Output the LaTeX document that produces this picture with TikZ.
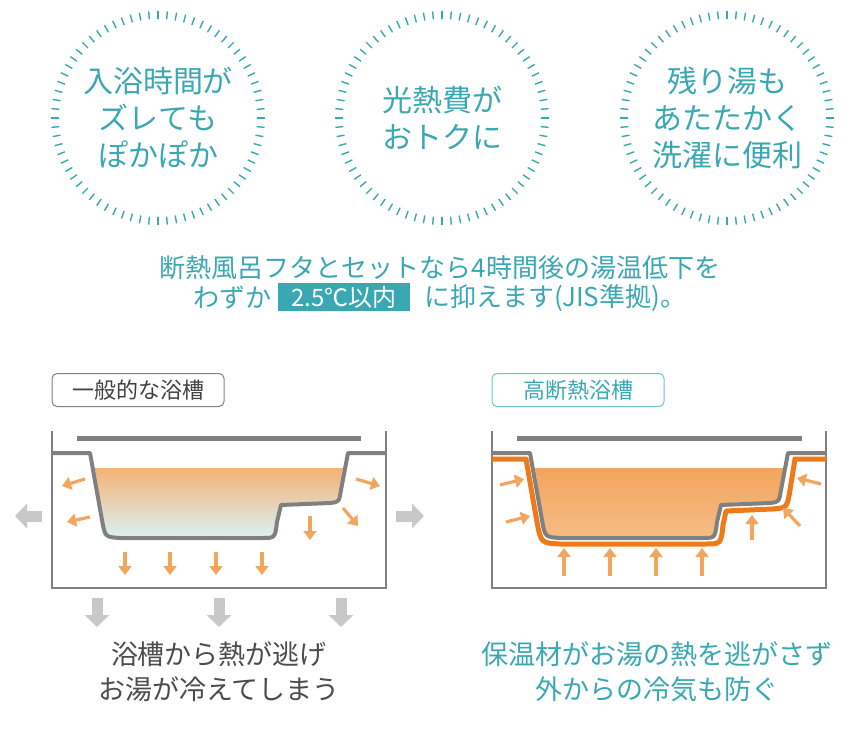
\documentclass[tikz,border=0pt]{standalone}
\usepackage{fontspec}
\newfontfamily\jp{Noto Sans CJK JP}
\usetikzlibrary{arrows.meta}
\definecolor{teal}{HTML}{3AA8B2}
\definecolor{tubgray}{HTML}{808080}
\definecolor{warm}{HTML}{F2A55C}
\definecolor{deep}{HTML}{EE7A1A}
\definecolor{blk}{HTML}{C8C8C8}
\tikzset{
 circtxt/.style={font=\jp\fontsize{30}{37}\selectfont,text=teal,align=center},
 oarr/.style={draw=warm,line width=3.2pt,-{Triangle[length=9pt,width=13pt]}},
 garr/.style={draw=blk,line width=11pt,-{Triangle[length=12pt,width=24pt]}},
 tag/.style={draw,rounded corners=5pt,line width=1pt,minimum width=172pt,minimum height=33pt,font=\jp\fontsize{22}{24}\selectfont},
 stmt/.style={font=\jp\fontsize{26}{30}\selectfont,text=teal,inner sep=0pt},
}
\begin{document}
\begin{tikzpicture}[x=1pt,y=-1pt]
\useasboundingbox (0,0) rectangle (855,741);
\foreach \cx/\t [count=\i] in {158/{入浴時間が\\ズレても\\ぽかぽか},442/{光熱費が\\おトクに},727/{残り湯も\\あたたかく\\洗濯に便利}}{
  \foreach \a in {0,5,...,355}{
    \draw[teal,line width=1.4pt] ({\cx+99*cos(\a)},{118+99*sin(\a)}) -- ({\cx+107*cos(\a)},{118+107*sin(\a)});
  }
  \node[circtxt] (c\i) at (\cx,118) {\t};
}
\node[stmt] (s1) at (440,268) {断熱風呂フタとセットなら4時間後の湯温低下を};
\node[stmt,anchor=east] (s2a) at (272,298) {わずか};
\node[fill=teal,text=white,font=\jp\fontsize{24}{26}\selectfont,minimum height=27pt,minimum width=132pt,inner xsep=3pt,anchor=west] (hl) at (278,297) {2.5℃以内};
\node[stmt,anchor=west] (s2b) at (424,298) {に抑えます(JIS準拠)。};
\node[tag,draw=tubgray,text=black!75] (t1) at (138,390) {一般的な浴槽};
\node[tag,draw=teal!70,text=teal] (t2) at (578,390) {高断熱浴槽};
% LEFT tub
\draw[tubgray,line width=1.5pt] (52,431) -- (52,588) -- (386,588) -- (386,431);
\draw[tubgray,line width=5pt] (77,438) -- (361,438);
\shade[top color=warm!85,bottom color=teal!18] (95,468) -- (343,468) -- (340,490) .. controls (337,500) .. (328,502) -- (282,503) -- (277,522) .. controls (274,536) .. (262,536) -- (120,536) .. controls (106,536) .. (103,520) -- cycle;
\draw[tubgray,line width=4pt,line join=round] (52,453) -- (90,453) -- (102,520) .. controls (105,537) .. (120,538) -- (262,538) .. controls (275,538) .. (277,522) -- (281,505) -- (330,503) .. controls (339,502) .. (341,490) -- (348,453) -- (386,453);
\foreach \a/\b/\c/\d in {85/479/62/486, 90/517/67/522, 356/479/380/486, 343/508/358/526, 310/516/310/540, 125/552/125/575, 170/552/170/575, 216/552/216/575, 262/552/262/575}
  \draw[oarr] (\a,\b) -- (\c,\d);
\draw[garr] (42,516) -- (15,516);
\draw[garr] (396,516) -- (424,516);
\foreach \x in {97,219,341} \draw[garr] (\x,598) -- (\x,627);
\node[font=\jp\fontsize{27}{35}\selectfont,text=black!70,align=center] (b1) at (219,672) {浴槽から熱が逃げ\\お湯が冷えてしまう};
% RIGHT tub
\draw[tubgray,line width=1.5pt] (492,431) -- (492,588) -- (826,588) -- (826,431);
\draw[tubgray,line width=5pt] (517,438) -- (802,438);
\shade[top color=warm,bottom color=warm!75] (535,468) -- (784,468) -- (781,490) .. controls (778,500) .. (768,502) -- (722,503) -- (717,522) .. controls (714,536) .. (702,536) -- (560,536) .. controls (546,536) .. (543,520) -- cycle;
\draw[deep,line width=5pt,line join=round] (492,459) -- (526,459) -- (537,522) .. controls (541,543) .. (560,544) -- (705,544) .. controls (721,544) .. (723,525) -- (726,511) -- (772,509) .. controls (787,508) .. (790,490) -- (795,459) -- (826,459);
\draw[tubgray,line width=4pt,line join=round] (492,453) -- (530,453) -- (542,520) .. controls (545,537) .. (560,538) -- (702,538) .. controls (715,538) .. (717,522) -- (721,505) -- (770,503) .. controls (779,502) .. (781,490) -- (788,453) -- (826,453);
\foreach \a/\b/\c/\d in {500/485/524/479, 506/522/530/516, 821/484/797/478, 800/526/783/508, 752/540/752/515, 564/576/564/548, 610/576/610/548, 656/576/656/548, 702/576/702/548}
  \draw[oarr] (\a,\b) -- (\c,\d);
\node[font=\jp\fontsize{27}{35}\selectfont,text=teal,align=center] (b2) at (657,672) {保温材がお湯の熱を逃がさず\\外からの冷気も防ぐ};
\end{tikzpicture}
\end{document}
